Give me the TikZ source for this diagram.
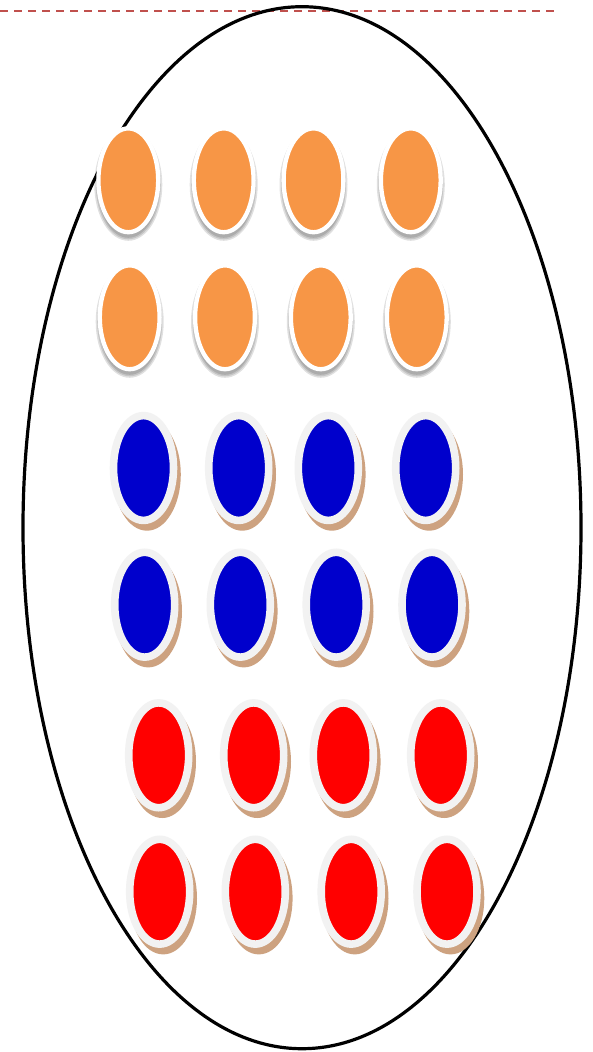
\documentclass[tikz,border=0pt]{standalone}
\usetikzlibrary{calc}
\definecolor{dashred}{RGB}{192,80,77}
\definecolor{orangefill}{RGB}{247,150,70}
\definecolor{bluefill}{RGB}{0,0,204}
\definecolor{redfill}{RGB}{255,0,0}
\definecolor{rimgray}{RGB}{242,242,242}
\definecolor{shadowbrown}{RGB}{205,162,128}
\tikzset{
  bigoval/.style={draw=black, line width=3.2pt},
  guide/.style={draw=dashred, line width=1.8pt, dash pattern=on 7.5pt off 6.5pt},
  orangeoval/.style={draw=white, line width=4.3pt, fill=orangefill},
  coloval/.style={draw=rimgray, line width=7.6pt},
  softshadow/.style={fill=black, opacity=0.12, draw=none},
  brownshadow/.style={fill=shadowbrown, draw=none},
}
\newcommand{\orangeoval}[3]{%
  \foreach \g in {0,1.5,3}{
    \fill[softshadow] ($(#1,#2)+(0,4.5)$) ellipse ({31+\g} and {53+\g});
  }
  \path[orangeoval] (#1,#2) coordinate (#3) ellipse (29.9 and 51.9);
}
\newcommand{\coloredoval}[4]{%
  \path[brownshadow] ($(#1,#2)+(3.5,6.5)$) ellipse (33.8 and 56.2);
  \path[coloval, fill=#4] (#1,#2) coordinate (#3) ellipse (30 and 52.4);
}
\begin{document}
\begin{tikzpicture}[x=1pt, y=-1pt]
\useasboundingbox[fill=white] (0,0) rectangle (593,1052);
\draw[guide] (0,11) coordinate (gl) -- (555,11) coordinate (gr);
\draw[bigoval] (302,527.7) coordinate (big) ellipse (279 and 521);
% orange rows
\orangeoval{128.3}{180.3}{o11}
\orangeoval{223.7}{180.3}{o12}
\orangeoval{313.5}{180.3}{o13}
\orangeoval{410.8}{180.3}{o14}
\orangeoval{129.7}{317.3}{o21}
\orangeoval{225}{317.3}{o22}
\orangeoval{320.8}{317.3}{o23}
\orangeoval{416.8}{317.3}{o24}
% blue rows
\coloredoval{143.5}{468}{b11}{bluefill}
\coloredoval{238.7}{468}{b12}{bluefill}
\coloredoval{328.3}{468}{b13}{bluefill}
\coloredoval{425.7}{468}{b14}{bluefill}
\coloredoval{144.7}{604.7}{b21}{bluefill}
\coloredoval{240.3}{604.7}{b22}{bluefill}
\coloredoval{336.2}{604.7}{b23}{bluefill}
\coloredoval{432}{604.7}{b24}{bluefill}
% red rows
\coloredoval{158.7}{755.3}{r11}{redfill}
\coloredoval{253.7}{755.3}{r12}{redfill}
\coloredoval{343.3}{755.3}{r13}{redfill}
\coloredoval{440.7}{755.3}{r14}{redfill}
\coloredoval{159.7}{891.7}{r21}{redfill}
\coloredoval{255.3}{891.7}{r22}{redfill}
\coloredoval{351.2}{891.7}{r23}{redfill}
\coloredoval{447}{891.7}{r24}{redfill}
\end{tikzpicture}
\end{document}
